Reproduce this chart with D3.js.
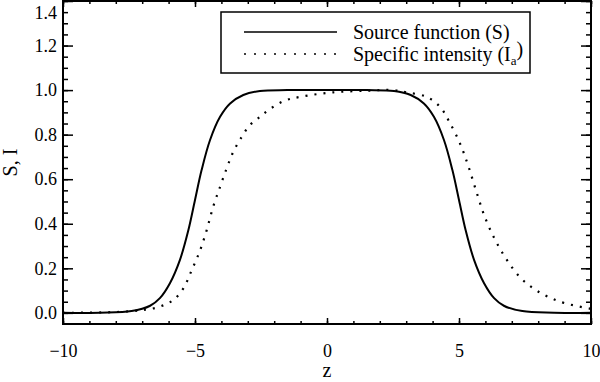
<!DOCTYPE html>
<html>
<head>
<meta charset="utf-8">
<script src="https://cdn.jsdelivr.net/npm/d3@7"></script>
<style>
  body { margin: 0; background: #fff; }
  svg text { font-family: "Liberation Serif", "DejaVu Serif", serif; fill: #000; }
</style>
</head>
<body>
<div id="chart"></div>
<script>
// Source function S(z)
const sourceZ = [-10, -8.6, -7.4, -6.7, -6.33, -5.95, -5.57, -5.25, -5.0, -4.75, -4.43, -4.05, -3.67, -3.17, -2.54, -1.5, 0, 1.5, 2.54, 3.17, 3.67, 4.05, 4.43, 4.75, 5.0, 5.25, 5.57, 5.95, 6.33, 6.7, 7.4, 8.6, 10];
const sourceS = [0, 0.001, 0.008, 0.032, 0.066, 0.133, 0.238, 0.372, 0.507, 0.641, 0.776, 0.88, 0.94, 0.978, 0.996, 1.0, 1.0, 1.0, 0.996, 0.978, 0.94, 0.88, 0.776, 0.641, 0.507, 0.372, 0.238, 0.133, 0.066, 0.032, 0.008, 0.001, 0];

// Specific intensity I_a(z)
const intensZ = [-10, -8.5, -7.6, -6.9, -6.33, -5.82, -5.44, -5.13, -4.81, -4.56, -4.31, -4.05, -3.8, -3.55, -3.23, -2.92, -2.54, -2.22, -1.66, -1.0, 0.24, 1.5, 2.5, 3.0, 3.77, 4.28, 4.6, 5.04, 5.35, 5.67, 5.98, 6.36, 6.8, 7.31, 7.94, 8.83, 10];
const intensI = [0, 0.002, 0.006, 0.014, 0.028, 0.058, 0.11, 0.19, 0.28, 0.37, 0.477, 0.566, 0.649, 0.723, 0.79, 0.843, 0.88, 0.91, 0.95, 0.97, 0.99, 0.997, 1.0, 0.99, 0.97, 0.925, 0.865, 0.76, 0.66, 0.54, 0.43, 0.33, 0.24, 0.16, 0.10, 0.05, 0.018];

// axis ticks
const zMajor = [-10, -5, 0, 5, 10];
const zMinor = d3.range(-10, 10.01, 1);
const yMajor = [0, 0.2, 0.4, 0.6, 0.8, 1.0, 1.2, 1.4];
const yMinor = d3.range(0, 1.401, 0.05);

const legendLabels = ["Source function (S)", "Specific intensity (I"];

const W = 600, H = 382;
const margin = {top: 1, right: 9, bottom: 58, left: 63};
const width = W - margin.left - margin.right;
const height = H - margin.top - margin.bottom;

const svg = d3.select("#chart").append("svg")
    .attr("width", W)
    .attr("height", H);

const g = svg.append("g")
    .attr("transform", `translate(${margin.left},${margin.top})`);

const x = d3.scaleLinear().domain([-10, 10]).range([0, width]);
const y = d3.scaleLinear().domain([-0.05, 1.4]).range([height, 0]);

// bottom axis with labels
g.append("g")
    .attr("transform", `translate(0,${height})`)
    .call(d3.axisBottom(x).tickValues(zMajor).tickSize(-6).tickPadding(20).tickFormat(d3.format("d")));
g.append("g")
    .attr("transform", `translate(0,${height})`)
    .call(d3.axisBottom(x).tickValues(zMinor).tickSize(-3).tickFormat(""));

// top axis
g.append("g").call(d3.axisTop(x).tickValues(zMajor).tickSize(-6).tickFormat(""));
g.append("g").call(d3.axisTop(x).tickValues(zMinor).tickSize(-3).tickFormat(""));

// left axis with labels
const yAxis = g.append("g")
    .call(d3.axisLeft(y).tickValues(yMajor).tickSize(-10).tickPadding(6).tickFormat(d3.format(".1f")));
g.append("g").call(d3.axisLeft(y).tickValues(yMinor).tickSize(-5).tickFormat(""));

// right axis
g.append("g").attr("transform", `translate(${width},0)`)
    .call(d3.axisRight(y).tickValues(yMajor).tickSize(-10).tickFormat(""));
g.append("g").attr("transform", `translate(${width},0)`)
    .call(d3.axisRight(y).tickValues(yMinor).tickSize(-5).tickFormat(""));

g.selectAll(".domain").remove();
g.selectAll(".tick line").attr("stroke", "#000").attr("stroke-width", 1.5);
g.selectAll(".tick text")
    .attr("font-family", "Liberation Serif, DejaVu Serif, serif")
    .style("font-size", "18px").attr("fill", "#000");

// top label sits a bit lower so it is not cut off
yAxis.selectAll(".tick text").filter(d => d === 1.4).attr("dy", "0.95em");

// frame
g.append("rect")
    .attr("width", width)
    .attr("height", height)
    .attr("fill", "none")
    .attr("stroke", "#000")
    .attr("stroke-width", 2);

// curves
const line = d3.line()
    .x(d => x(d[0]))
    .y(d => y(d[1]))
    .curve(d3.curveCatmullRom.alpha(0.5));

g.append("path")
    .datum(d3.zip(sourceZ, sourceS))
    .attr("d", line)
    .attr("fill", "none")
    .attr("stroke", "#000")
    .attr("stroke-width", 2);

g.append("path")
    .datum(d3.zip(intensZ, intensI))
    .attr("d", line)
    .attr("fill", "none")
    .attr("stroke", "#000")
    .attr("stroke-width", 2.2)
    .attr("stroke-dasharray", "2,7");

// axis titles
svg.append("text")
    .attr("x", margin.left + x(0))
    .attr("y", 377)
    .attr("text-anchor", "middle")
    .style("font-size", "20px")
    .text("z");

svg.append("text")
    .attr("transform", `translate(17,${margin.top + height / 2}) rotate(-90)`)
    .attr("text-anchor", "middle")
    .style("font-size", "20px")
    .text("S, I");

// legend
const legend = svg.append("g").attr("transform", "translate(221,12)");
legend.append("rect")
    .attr("width", 309)
    .attr("height", 61)
    .attr("fill", "#fff")
    .attr("stroke", "#000")
    .attr("stroke-width", 1.5);

const rows = legend.selectAll(".legend-row")
    .data(legendLabels)
    .enter().append("g")
    .attr("class", "legend-row")
    .attr("transform", (d, i) => `translate(0,${20 + i * 22})`);

rows.append("line")
    .attr("x1", 23).attr("x2", 116)
    .attr("stroke", "#000")
    .attr("stroke-width", 1.5)
    .attr("stroke-dasharray", (d, i) => i === 0 ? null : "2,8");

const lt = rows.append("text")
    .attr("x", 132)
    .attr("dy", "0.34em")
    .style("font-size", "20px")
    .text(d => d);

lt.filter((d, i) => i === 1).append("tspan")
    .attr("dy", "0.3em")
    .style("font-size", "13px")
    .text("a");
lt.filter((d, i) => i === 1).append("tspan")
    .attr("dy", "-0.45em")
    .text(")");
</script>
</body>
</html>
